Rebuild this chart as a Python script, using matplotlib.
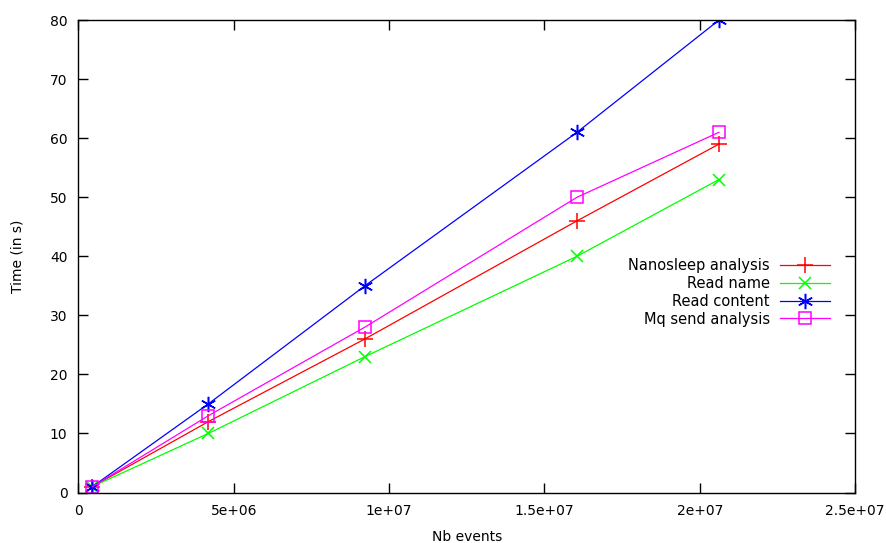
import matplotlib
matplotlib.use("Agg")
import matplotlib.pyplot as plt

# Data
nb_events = [0.45e6, 4.18e6, 9.22e6, 16.05e6, 20.62e6]
nanosleep = [1, 12, 26, 46, 59]
read_name = [1, 10, 23, 40, 53]
read_content = [1, 15, 35, 61, 80]
mq_send = [1, 13, 28, 50, 61]

x_ticks = [0, 5e6, 1e7, 1.5e7, 2e7, 2.5e7]
x_tick_labels = ["0", "5e+06", "1e+07", "1.5e+07", "2e+07", "2.5e+07"]
y_ticks = [0, 10, 20, 30, 40, 50, 60, 70, 80]

plt.rcParams['font.family'] = ['DejaVu Sans']
fig = plt.figure(figsize=(8.86, 5.43), dpi=100)
ax = fig.add_axes([0.0886, 0.093, 0.8764, 0.870])

series = [
    (nanosleep, "Nanosleep analysis", "#ff0000", "+", 11),
    (read_name, "Read name", "#00ff00", "x", 9),
    (read_content, "Read content", "#0000ff", (6, 2, 0), 11),
    (mq_send, "Mq send analysis", "#ff00ff", "s", 9),
]
for vals, label, color, marker, ms in series:
    if marker == "s":
        ax.plot(nb_events, vals, color=color, lw=0.9, marker=marker, ms=ms,
                mfc="none", mec=color, mew=1.1, label=label)
    else:
        ax.plot(nb_events, vals, color=color, lw=0.9, marker=marker, ms=ms,
                mew=1.1, label=label)

ax.set_xlim(0, 2.5e7)
ax.set_ylim(0, 80)
ax.set_xticks(x_ticks)
ax.set_xticklabels(x_tick_labels)
ax.set_yticks(y_ticks)
ax.tick_params(direction="in", top=True, right=True, length=7, width=1,
               labelsize=10, pad=8)
for sp in ax.spines.values():
    sp.set_linewidth(1)

ax.set_xlabel("Nb events", fontsize=10, labelpad=9)
ax.set_ylabel("Time (in s)", fontsize=10, labelpad=18)

ax.legend(loc="center right", bbox_to_anchor=(0.975, 0.424), frameon=False,
          markerfirst=False, alignment="right", handlelength=3.4,
          fontsize=10.5, labelspacing=0.2, handletextpad=0.7,
          borderaxespad=0)

fig.savefig("out.png", dpi=100)
